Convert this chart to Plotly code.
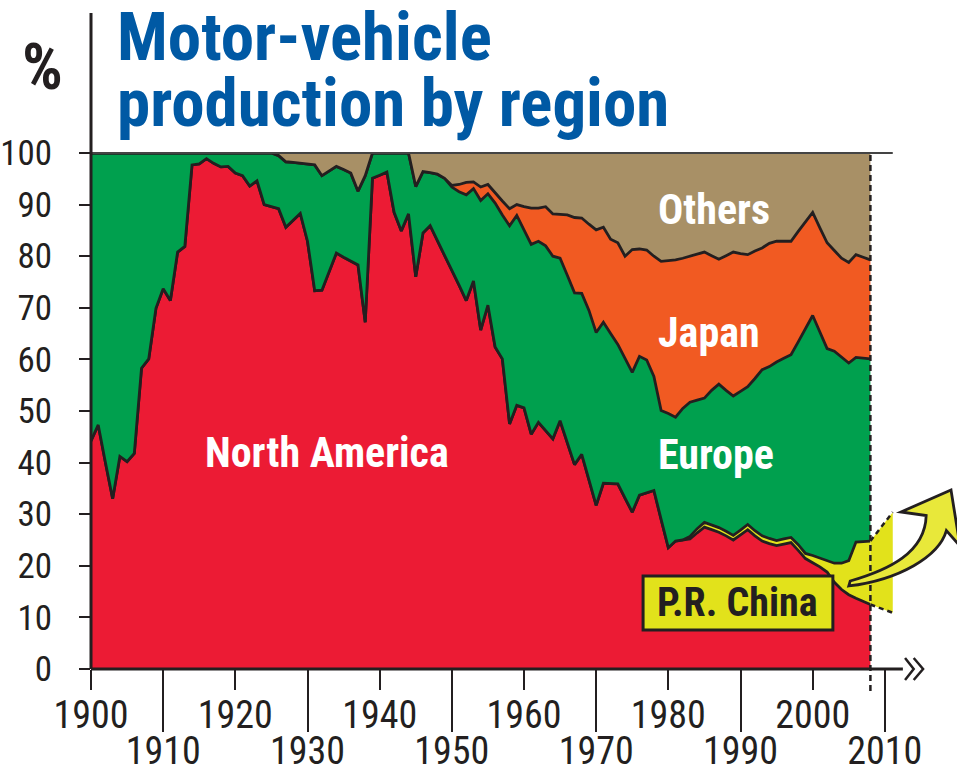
import plotly.graph_objects as go

# share of world motor-vehicle production, %
years = list(range(1900, 2009))

north_america = [
    44.2, 47.3, 40.0, 33.0, 41.2, 40.2, 41.8, 58.3, 60.1, 69.9,   # 1900s
    73.7, 71.4, 80.8, 81.9, 97.7, 97.9, 98.9, 98.0, 97.3, 97.4,   # 1910s
    96.1, 95.6, 93.6, 94.6, 90.0, 89.6, 89.2, 85.6, 87.0, 88.3,   # 1920s
    82.9, 73.3, 73.4, 77.0, 80.6, 79.8, 79.0, 78.3, 67.2, 95.1,   # 1930s
    95.7, 96.3, 88.5, 84.9, 88.2, 76.0, 84.5, 85.9, 83.0, 80.2,   # 1940s
    77.3, 74.4, 71.4, 75.2, 65.7, 70.5, 62.4, 60.1, 47.5, 51.1,   # 1950s
    50.6, 45.5, 47.8, 46.2, 44.6, 48.1, 43.8, 39.6, 41.6, 36.6,   # 1960s
    31.7, 36.0, 35.9, 35.9, 33.1, 30.4, 33.7, 34.2, 34.6, 29.0,   # 1970s
    23.5, 24.8, 25.0, 25.2, 26.4, 27.5, 27.0, 26.5, 25.8, 25.0,   # 1980s
    26.0, 27.0, 25.8, 24.8, 24.3, 23.9, 24.2, 24.5, 23.0, 21.4,   # 1990s
    20.6, 19.8, 18.8, 16.8, 15.4, 14.4, 13.7, 13.1, 12.5,         # 2000s
]

china = [
    0.0, 0.0, 0.0, 0.0, 0.0, 0.0, 0.0, 0.0, 0.0, 0.0,
    0.0, 0.0, 0.0, 0.0, 0.0, 0.0, 0.0, 0.0, 0.0, 0.0,
    0.0, 0.0, 0.0, 0.0, 0.0, 0.0, 0.0, 0.0, 0.0, 0.0,
    0.0, 0.0, 0.0, 0.0, 0.0, 0.0, 0.0, 0.0, 0.0, 0.0,
    0.0, 0.0, 0.0, 0.0, 0.0, 0.0, 0.0, 0.0, 0.0, 0.0,
    0.0, 0.0, 0.0, 0.0, 0.0, 0.0, 0.0, 0.0, 0.0, 0.0,
    0.0, 0.0, 0.0, 0.0, 0.0, 0.0, 0.0, 0.0, 0.0, 0.0,
    0.0, 0.0, 0.0, 0.0, 0.0, 0.0, 0.0, 0.0, 0.0, 0.0,
    0.0, 0.0, 0.0, 0.5, 0.8, 0.9, 0.9, 0.9, 0.9, 0.9,
    0.9, 1.0, 1.0, 1.0, 1.0, 1.0, 1.0, 1.0, 1.1, 1.0,
    1.4, 1.7, 2.2, 3.7, 5.1, 6.6, 10.9, 11.6, 12.3,
]

europe = [
    55.8, 52.7, 60.0, 67.0, 58.8, 59.8, 58.2, 41.7, 39.9, 30.1,
    26.3, 28.6, 19.2, 18.1, 2.3, 2.1, 1.1, 2.0, 2.7, 2.6,
    3.9, 4.4, 6.4, 5.4, 10.0, 10.4, 10.3, 12.7, 11.2, 9.7,
    14.9, 24.4, 22.2, 19.5, 16.8, 17.0, 17.1, 14.3, 28.4, 4.9,
    4.3, 3.7, 11.5, 15.1, 11.8, 17.5, 11.9, 10.3, 12.9, 14.9,
    16.1, 18.1, 20.5, 17.9, 25.1, 21.6, 27.9, 27.9, 38.4, 36.8,
    34.5, 36.8, 35.1, 35.8, 35.4, 31.5, 32.5, 33.3, 31.2, 32.9,
    33.5, 31.2, 29.1, 27.0, 27.1, 27.1, 26.9, 25.7, 22.1, 21.1,
    26.0, 24.0, 25.5, 26.0, 24.9, 24.1, 26.1, 27.8, 27.3, 27.0,
    26.9, 26.7, 29.5, 32.2, 33.3, 34.6, 35.0, 35.4, 39.3, 43.6,
    46.5, 43.8, 41.1, 41.1, 40.0, 38.3, 35.8, 35.5, 35.3,
]

japan = [
    0.0, 0.0, 0.0, 0.0, 0.0, 0.0, 0.0, 0.0, 0.0, 0.0,
    0.0, 0.0, 0.0, 0.0, 0.0, 0.0, 0.0, 0.0, 0.0, 0.0,
    0.0, 0.0, 0.0, 0.0, 0.0, 0.0, 0.0, 0.0, 0.0, 0.0,
    0.0, 0.0, 0.0, 0.0, 0.0, 0.0, 0.0, 0.0, 0.0, 0.0,
    0.0, 0.0, 0.0, 0.0, 0.0, 0.0, 0.0, 0.0, 0.0, 0.0,
    0.3, 1.4, 2.4, 1.3, 2.6, 1.8, 1.9, 2.7, 3.3, 2.1,
    4.5, 7.0, 6.4, 7.6, 8.2, 8.5, 11.7, 14.6, 14.6, 16.7,
    19.9, 18.4, 18.3, 19.7, 19.8, 23.8, 20.8, 21.3, 23.3, 28.9,
    29.6, 30.5, 29.1, 28.3, 28.3, 28.3, 26.1, 24.2, 26.1, 27.9,
    26.7, 25.6, 24.7, 23.6, 23.9, 23.4, 22.7, 22.0, 21.4, 20.6,
    20.0, 20.2, 20.5, 19.5, 19.1, 19.5, 19.9, 19.6, 19.2,
]

others = [
    0.0, 0.0, 0.0, 0.0, 0.0, 0.0, 0.0, 0.0, 0.0, 0.0,
    0.0, 0.0, 0.0, 0.0, 0.0, 0.0, 0.0, 0.0, 0.0, 0.0,
    0.0, 0.0, 0.0, 0.0, 0.0, 0.0, 0.5, 1.7, 1.8, 2.0,
    2.2, 2.3, 4.4, 3.5, 2.6, 3.2, 3.9, 7.4, 4.4, 0.0,
    0.0, 0.0, 0.0, 0.0, 0.0, 6.5, 3.6, 3.8, 4.1, 4.9,
    6.3, 6.1, 5.7, 5.6, 6.6, 6.1, 7.8, 9.3, 10.8, 10.0,
    10.4, 10.7, 10.7, 10.4, 11.8, 11.9, 12.0, 12.5, 12.6, 13.8,
    14.9, 14.4, 16.7, 17.4, 20.0, 18.7, 18.6, 18.8, 20.0, 21.0,
    20.9, 20.7, 20.4, 20.0, 19.6, 19.2, 19.9, 20.6, 19.9, 19.2,
    19.5, 19.7, 19.0, 18.4, 17.5, 17.1, 17.1, 17.1, 15.2, 13.4,
    11.5, 14.5, 17.4, 18.9, 20.4, 21.2, 19.7, 20.2, 20.7,
]

even_ticks = [1900, 1920, 1940, 1960, 1980, 2000]
odd_ticks = [1910, 1930, 1950, 1970, 1990, 2010]
y_ticks = [0, 10, 20, 30, 40, 50, 60, 70, 80, 90, 100]

INK = "#231F20"
RED = "#EC1B34"
YELLOW = "#E2E21B"
GREEN = "#00A04E"
ORANGE = "#F15A22"
TAN = "#A89066"
BLUE = "#0059A4"
NARROW = "Liberation Sans Narrow, Arial Narrow, Roboto Condensed, sans-serif"

PLOT_W = 866
PLOT_H = 516  # plot size in px, used to turn pixel offsets into paper units

fig = go.Figure()

layers = [("North America", north_america, RED),
          ("P.R. China", china, YELLOW),
          ("Europe", europe, GREEN),
          ("Japan", japan, ORANGE),
          ("Others", others, TAN)]
for name, values, color in layers:
    fig.add_trace(go.Scatter(x=years, y=values, name=name,
                             stackgroup="share", mode="lines",
                             line={"color": INK, "width": 0 if name == "Others" else 2.8},
                             fillcolor=color, hoverinfo="skip", showlegend=False))

# invisible point so the second (odd decades) axis gets drawn
fig.add_trace(go.Scatter(x=[years[0]], y=[0], xaxis="x2", mode="markers",
                         marker={"opacity": 0}, hoverinfo="skip", showlegend=False))

last = len(years) - 1
end_year = years[last]
na_end = north_america[last]
cn_end = north_america[last] + china[last]

shapes = [
    # top rule at 100 %
    dict(type="line", xref="x", yref="paper", x0=1900, x1=2011.1, y0=1, y1=1,
         line={"color": "#444", "width": 2}),
    # left axis, running up beside the title
    dict(type="line", xref="paper", yref="paper", x0=0, x1=0, y0=0, y1=656 / PLOT_H,
         line={"color": INK, "width": 3}),
    # bottom axis
    dict(type="line", xref="x", yref="paper", x0=1900, x1=2012.5, y0=0, y1=0,
         line={"color": INK, "width": 3}),
    dict(type="path", xref="x", yref="paper",
         path=f"M2012.8,{11 / PLOT_H} L2014.0,0 L2012.8,{-11 / PLOT_H}",
         line={"color": INK, "width": 2.5}),
    dict(type="path", xref="x", yref="paper",
         path=f"M2014.0,{11 / PLOT_H} L2015.3,0 L2014.0,{-11 / PLOT_H}",
         line={"color": INK, "width": 2.5}),
    # China band carried on past the last year
    dict(type="path", xref="x", yref="y",
         path=f"M{end_year},{na_end} L{end_year},{cn_end} L2011.1,30.4 L2011.1,10.9 Z",
         fillcolor=YELLOW, line={"width": 0}),
    dict(type="line", xref="x", yref="y", x0=end_year, x1=2011.1, y0=cn_end, y1=30.4,
         line={"color": INK, "width": 2.5, "dash": "5px,4px"}),
    dict(type="line", xref="x", yref="y", x0=end_year, x1=2011.1, y0=na_end, y1=10.9,
         line={"color": INK, "width": 2.5, "dash": "5px,4px"}),
    # dashed marker at the last year of data
    dict(type="line", xref="x", yref="paper", x0=end_year, x1=end_year,
         y0=-22 / PLOT_H, y1=1,
         line={"color": INK, "width": 2.5, "dash": "6px,4px"}),
    # curved arrow
    dict(type="path", xref="x", yref="y",
         path=("M2005.2,17.05 C2010.5,19.2 2015.6,22.5 2015.73,29.75 "
               "L2012.24,30.43 L2019.17,34.69 L2020.41,23.84 L2018.53,26.82 "
               "C2017.5,21.8 2012,17.3 2005.0,16.09 Z"),
         fillcolor="#E8E83A", line={"color": INK, "width": 2.8}),
    # P.R. China label box
    dict(type="rect", xref="x", yref="y", x0=1976.5, x1=2002.8, y0=7.56, y1=18.0,
         fillcolor=YELLOW, line={"color": INK, "width": 3}),
]

label_font = {"family": NARROW, "size": 42, "color": "white"}
annotations = [
    dict(text="<b>%</b>", xref="paper", yref="paper", x=-49 / PLOT_W, y=601 / PLOT_H,
         xanchor="center", yanchor="middle", showarrow=False,
         font={"family": NARROW, "size": 64, "color": INK}),
    dict(text="<b>Motor-vehicle</b>", xref="paper", yref="paper", x=24 / PLOT_W,
         y=632 / PLOT_H, xanchor="left", yanchor="middle", showarrow=False,
         font={"family": NARROW, "size": 67, "color": BLUE}),
    dict(text="<b>production by region</b>", xref="paper", yref="paper", x=24 / PLOT_W,
         y=566 / PLOT_H, xanchor="left", yanchor="middle", showarrow=False,
         font={"family": NARROW, "size": 67, "color": BLUE}),
    dict(text="<b>North America</b>", x=1932.7, y=41.9, showarrow=False, font=label_font),
    dict(text="<b>Others</b>", x=1978.3, y=89.1, xanchor="left", showarrow=False, font=label_font),
    dict(text="<b>Japan</b>", x=1978.3, y=65.3, xanchor="left", showarrow=False, font=label_font),
    dict(text="<b>Europe</b>", x=1978.3, y=41.5, xanchor="left", showarrow=False, font=label_font),
    dict(text="<b>P.R. China</b>", x=1989.65, y=12.8, showarrow=False,
         font={"family": NARROW, "size": 40, "color": INK}),
]

x_tick_font = {"family": NARROW, "size": 38, "color": INK}
y_tick_font = {"family": NARROW, "size": 35, "color": INK}
fig.update_layout(
    width=957, height=767, autosize=False,
    margin={"l": 91, "r": 0, "t": 153, "b": 98, "autoexpand": False},
    paper_bgcolor="white", plot_bgcolor="white",
    showlegend=False,
    xaxis={"range": [1900, 2020], "tickvals": even_ticks, "ticks": "outside",
           "ticklen": 20, "tickwidth": 2, "tickcolor": INK, "tickfont": x_tick_font,
           "ticklabelstandoff": -8, "showgrid": False, "zeroline": False, "showline": False,
           "automargin": False},
    xaxis2={"range": [1900, 2020], "overlaying": "x", "anchor": "y", "side": "bottom",
            "tickvals": odd_ticks, "ticks": "outside", "ticklen": 62, "tickwidth": 2,
            "tickcolor": INK, "tickfont": x_tick_font, "ticklabelstandoff": -14,
            "showgrid": False, "zeroline": False, "showline": False, "automargin": False},
    yaxis={"range": [0, 100], "tickvals": y_ticks, "ticks": "outside", "ticklen": 11,
           "tickwidth": 2, "tickcolor": INK, "tickfont": y_tick_font, "ticklabelstandoff": 20,
           "showgrid": False, "zeroline": False, "showline": False, "automargin": False},
    shapes=shapes,
    annotations=annotations,
)

# drop the browser's default 8px body margin so the figure sits flush in the window
fig.write_html("out.html", config={"displayModeBar": False},
               post_script="document.body.style.margin = '0';")
